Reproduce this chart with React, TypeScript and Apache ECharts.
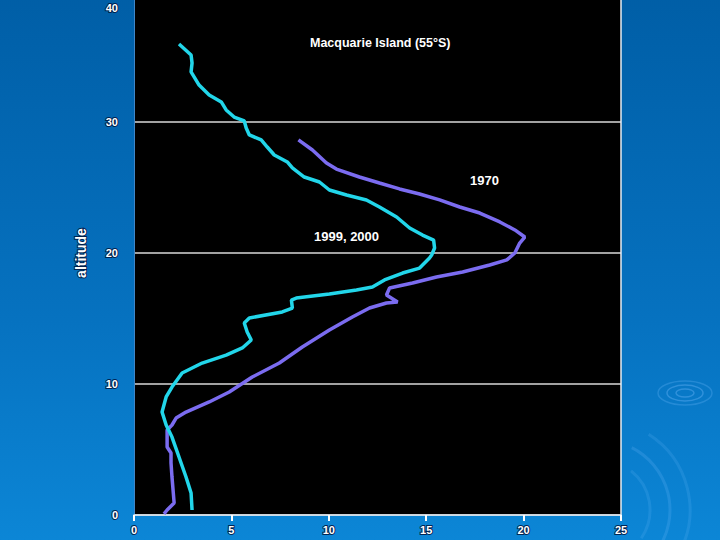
import React, { useEffect, useRef } from "react";
import * as echarts from "echarts";

// Temperature-like profile (x) vs altitude (y)
const series1970: [number, number][] = [
  [8.44, 28.63], [9.16, 27.86], [9.88, 26.87], [10.39, 26.41], [11.57, 25.8],
  [12.6, 25.34], [13.63, 24.89], [14.66, 24.5], [15.69, 24.05], [16.72, 23.51],
  [17.75, 23.05], [18.78, 22.37], [19.55, 21.76], [20.06, 21.22], [19.8, 20.76],
  [19.55, 20.0], [19.14, 19.47], [18.26, 19.08], [16.87, 18.55], [15.53, 18.17],
  [14.3, 17.71], [13.12, 17.33], [12.96, 16.79], [13.53, 16.26], [12.96, 16.18],
  [12.09, 15.8], [11.21, 15.11], [10.03, 14.12], [8.64, 12.82], [7.46, 11.6],
  [6.07, 10.53], [4.89, 9.39], [3.86, 8.63], [2.67, 7.86], [2.16, 7.4],
  [1.95, 6.87], [1.7, 6.49], [1.7, 5.19], [1.9, 4.73], [1.9, 3.97],
  [1.95, 2.9], [2.06, 0.92], [1.7, 0.38], [1.54, 0.08],
];

const series1999: [number, number][] = [
  [2.31, 35.95], [2.93, 35.11], [2.98, 34.5], [2.93, 33.82], [3.34, 32.82],
  [3.86, 32.06], [4.48, 31.53], [4.73, 30.92], [5.14, 30.38], [5.66, 30.08],
  [5.76, 29.54], [5.92, 29.01], [6.53, 28.63], [6.84, 28.09], [7.2, 27.48],
  [7.87, 26.95], [8.13, 26.49], [8.74, 25.8], [9.52, 25.42], [10.03, 24.81],
  [10.91, 24.43], [11.93, 24.05], [12.6, 23.51], [13.48, 22.75], [14.15, 21.91],
  [14.81, 21.37], [15.38, 20.99], [15.43, 20.38], [15.28, 19.85], [15.17, 19.62],
  [14.66, 18.85], [13.79, 18.47], [12.86, 17.94], [12.24, 17.4], [11.42, 17.18],
  [10.03, 16.87], [8.33, 16.56], [8.08, 16.41], [8.13, 15.8], [7.61, 15.5],
  [5.92, 15.04], [5.66, 14.66], [5.81, 13.97], [6.02, 13.36], [5.56, 12.75],
  [4.73, 12.21], [3.5, 11.6], [2.47, 10.84], [1.95, 9.77], [1.65, 9.01],
  [1.44, 7.86], [1.65, 6.87], [1.95, 5.95], [2.31, 4.43], [2.67, 2.9],
  [2.93, 1.68], [2.98, 0.38],
];

const seriesNames = ["1970", "1999, 2000"];
const titleText = "Macquarie Island (55°S)";
const yAxisName = "altitude";
const xTicks = { min: 0, max: 25, interval: 5 };
const yTicks = { min: 0, max: 40, interval: 10 };

const labelStyle = {
  color: "#ffffff",
  fontFamily: "Liberation Sans, Arial, sans-serif",
  fontWeight: "bold" as const,
  fontSize: 11,
  textBorderColor: "rgba(0,20,60,0.85)",
  textBorderWidth: 2,
};

const annFont = "bold 13px 'Liberation Sans', Arial, sans-serif";

export default function App() {
  const ref = useRef<HTMLDivElement>(null);
  useEffect(() => {
    if (!ref.current) return;
    const chart = echarts.init(ref.current, null, { renderer: "svg" });
    const ripple = "rgba(120,190,255,0.35)";
    chart.setOption({
      animation: false,
      backgroundColor: new echarts.graphic.LinearGradient(0, 0, 0, 1, [
        { offset: 0, color: "#005ea6" },
        { offset: 0.6, color: "#0672c0" },
        { offset: 1, color: "#0c86d6" },
      ]),
      grid: {
        left: 134,
        right: 99,
        top: 0,
        bottom: 25,
        outerBoundsMode: "none",
        containLabel: false,
        show: true,
        backgroundColor: "#000000",
        borderWidth: 0,
      },
      xAxis: {
        type: "value",
        min: xTicks.min,
        max: xTicks.max,
        interval: xTicks.interval,
        axisLine: { show: true, lineStyle: { color: "#dde6ee", width: 1.5 } },
        axisTick: { show: true, length: 6, lineStyle: { color: "#ffffff", width: 2 } },
        axisLabel: { ...labelStyle, margin: 9 },
        splitLine: { show: false },
      },
      yAxis: [
        {
          type: "value",
          min: yTicks.min,
          max: yTicks.max,
          interval: yTicks.interval,
          name: yAxisName,
          nameLocation: "middle",
          nameGap: 46,
          nameTextStyle: { ...labelStyle, fontSize: 14 },
          axisLine: { show: true, lineStyle: { color: "#3f86c8", width: 1 } },
          axisTick: { show: false },
          axisLabel: {
            ...labelStyle,
            margin: 16,
            formatter: (v: number) => (v === yTicks.max ? "{top|" + v + "}" : String(v)),
            rich: {
              top: { ...labelStyle, padding: [34, 0, 0, 0] },
            },
          },
          splitLine: { show: true, lineStyle: { color: "#d8d8d8", width: 1.5 } },
        },
        {
          type: "value",
          position: "right",
          min: yTicks.min,
          max: yTicks.max,
          interval: yTicks.interval,
          axisLine: { show: true, lineStyle: { color: "#e8eef4", width: 1.5 } },
          axisTick: { show: false },
          axisLabel: { show: false },
          splitLine: { show: false },
        },
      ],
      series: [
        {
          name: seriesNames[0],
          type: "line",
          data: series1970,
          showSymbol: false,
          lineStyle: { color: "#7b6cf0", width: 3.5 },
          z: 2,
        },
        {
          name: seriesNames[1],
          type: "line",
          data: series1999,
          showSymbol: false,
          lineStyle: { color: "#22d6ea", width: 3.5 },
          z: 3,
        },
      ],
      graphic: [
        { type: "text", left: 310, top: 45, style: { text: titleText, fill: "#fff", font: "bold 12.5px 'Liberation Sans', Arial, sans-serif" } },
        { type: "text", left: 470, top: 183, style: { text: seriesNames[0], fill: "#fff", font: annFont } },
        { type: "text", left: 314, top: 239, style: { text: seriesNames[1], fill: "#fff", font: annFont } },
        { type: "ellipse", shape: { cx: 685, cy: 402, rx: 9, ry: 4 }, style: { fill: "none", stroke: ripple, lineWidth: 1.5 } },
        { type: "ellipse", shape: { cx: 685, cy: 402, rx: 18, ry: 8 }, style: { fill: "none", stroke: ripple, lineWidth: 1.5 } },
        { type: "ellipse", shape: { cx: 685, cy: 402, rx: 27, ry: 12 }, style: { fill: "none", stroke: "rgba(120,190,255,0.25)", lineWidth: 1.5 } },
        { type: "arc", shape: { cx: 600, cy: 519, r: 70, startAngle: -1.1, endAngle: 0.6 }, style: { stroke: "rgba(120,190,255,0.2)", lineWidth: 3, fill: "none" } },
        { type: "arc", shape: { cx: 600, cy: 519, r: 90, startAngle: -1.0, endAngle: 0.5 }, style: { stroke: "rgba(120,190,255,0.16)", lineWidth: 3, fill: "none" } },
        { type: "arc", shape: { cx: 600, cy: 519, r: 50, startAngle: -0.9, endAngle: 0.6 }, style: { stroke: "rgba(120,190,255,0.16)", lineWidth: 3, fill: "none" } },
      ],
    });
    return () => chart.dispose();
  }, []);
  return (
    <div
      ref={ref}
      style={{ position: "fixed", left: 0, top: -9, width: 720, height: 549 }}
    />
  );
}
